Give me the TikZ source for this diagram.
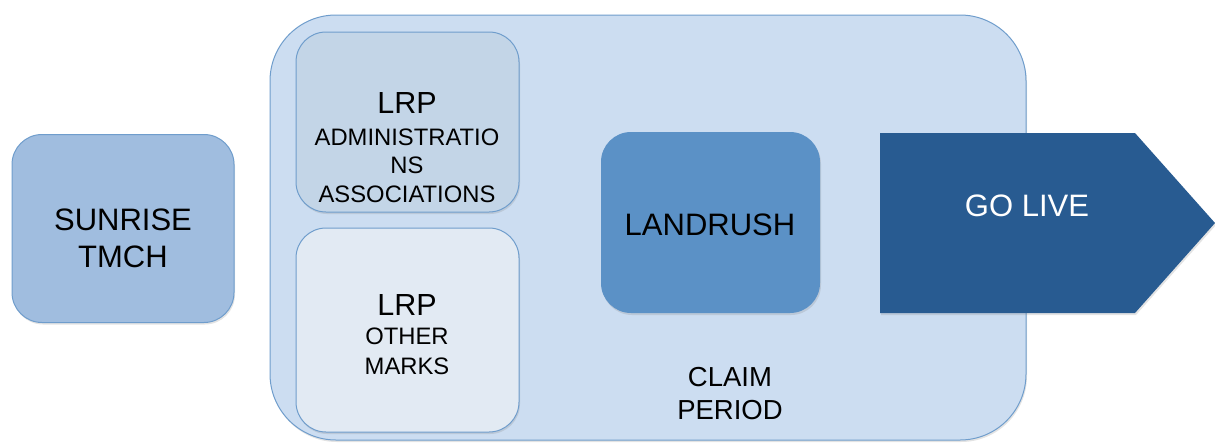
\documentclass[tikz,border=0pt]{standalone}
\usepackage{fontspec}
\setmainfont{Liberation Sans}
\usetikzlibrary{shadows}
\definecolor{contfill}{HTML}{CCDDF1}
\definecolor{edgec}{HTML}{6F9DCC}
\definecolor{sunfill}{HTML}{A0BDDF}
\definecolor{admfill}{HTML}{C3D5E7}
\definecolor{othfill}{HTML}{E2EAF3}
\definecolor{landfill}{HTML}{5B91C6}
\definecolor{livefill}{HTML}{285B91}
\begin{document}
\begin{tikzpicture}[x=1pt,y=-1pt,
  box/.style={draw=edgec, line width=1pt, rounded corners=30pt, inner sep=0pt,
    drop shadow={opacity=0.22, shadow xshift=1pt, shadow yshift=-2pt}},
  big/.style={inner sep=0pt, anchor=base, font=\fontsize{31}{37}\selectfont},
  mid/.style={inner sep=0pt, anchor=base, font=\fontsize{30.5}{36}\selectfont},
  small/.style={inner sep=0pt, anchor=base, font=\fontsize{23.8}{28}\selectfont},
  claim/.style={inner sep=0pt, anchor=base, font=\fontsize{27.5}{33}\selectfont},
]
\useasboundingbox (0,0) rectangle (1215,442);
% container
\node[box, fill=contfill, rounded corners=66pt, minimum width=756pt, minimum height=425pt] (cont) at (648,227.5) {};
% sunrise
\node[box, fill=sunfill, minimum width=222pt, minimum height=188pt] (sun) at (123,228.5) {};
\node[big] (sun1) at (123,230) {SUNRISE};
\node[big] (sun2) at (123,267) {TMCH};
% LRP admin
\node[box, fill=admfill, minimum width=223pt, minimum height=180pt] (adm) at (407.5,122) {};
\node[mid] (adm1) at (407,113) {LRP};
\node[small] (adm2) at (407,145) {ADMINISTRATIO};
\node[small] (adm3) at (407,173) {NS};
\node[small] (adm4) at (407,202) {ASSOCIATIONS};
% LRP other
\node[box, fill=othfill, minimum width=223pt, minimum height=204pt] (oth) at (407.5,330) {};
\node[mid] (oth1) at (407,315) {LRP};
\node[small] (oth2) at (407,344) {OTHER};
\node[small] (oth3) at (407,374) {MARKS};
% landrush
\node[box, draw=none, fill=landfill, minimum width=219pt, minimum height=181pt] (land) at (710.5,222.5) {};
\node[big] (land1) at (710,235) {LANDRUSH};
% go live
\fill[livefill, drop shadow={opacity=0.22, shadow xshift=1pt, shadow yshift=-2pt}]
  (880,133) -- (1135,133) -- (1215,223) -- (1135,313) -- (880,313) -- cycle;
\node[big, text=white] (live) at (1027,216) {GO LIVE};
% claim period
\node[claim] (cl1) at (730,386) {CLAIM};
\node[claim] (cl2) at (730,419) {PERIOD};
\end{tikzpicture}
\end{document}
